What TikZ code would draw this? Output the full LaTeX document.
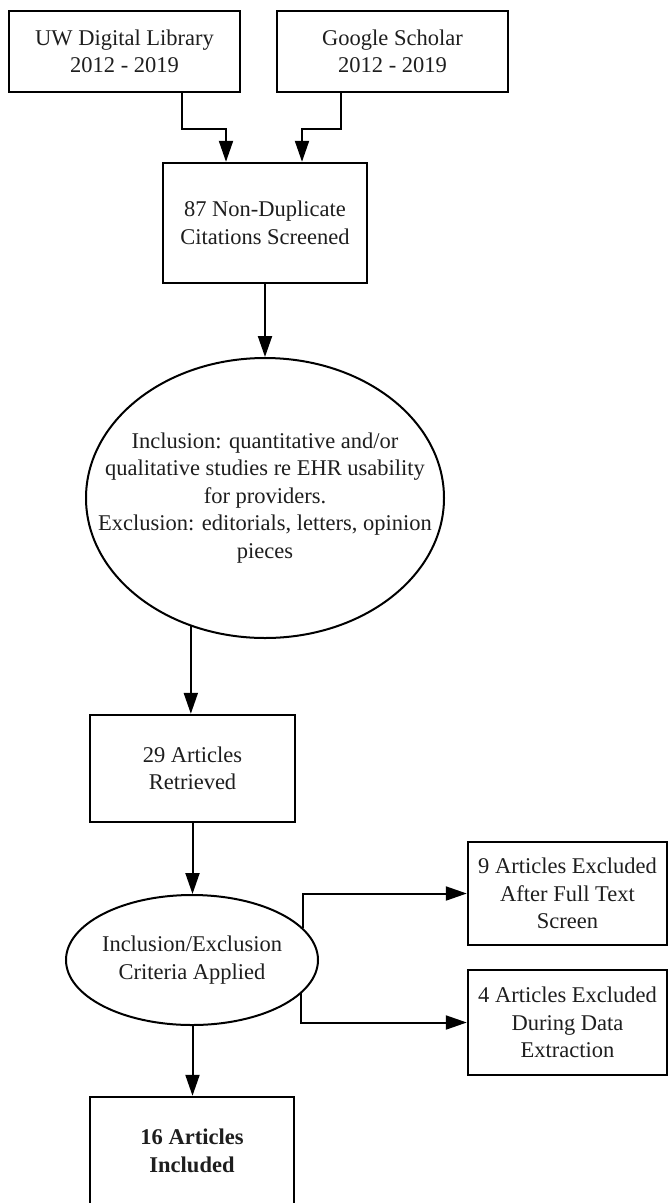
\documentclass[tikz,border=0pt]{standalone}
\usepackage{fontspec}
\setmainfont{Liberation Serif}
\usepackage{tikz}
\usetikzlibrary{shapes.geometric, arrows.meta, positioning}
\definecolor{mydark}{RGB}{0,0,0}
\definecolor{mytext}{RGB}{30,30,30}
\tikzset{
  block/.style={rectangle, draw=mydark, fill=white,
    align=center, font=\fontsize{22.5}{27.5}\selectfont, text=mytext,
    inner sep=0pt, line width=2.4pt},
  oval/.style={ellipse, draw=mydark, fill=white,
    inner sep=0pt, line width=2pt},
  ovaltext/.style={align=center, font=\fontsize{22.5}{27.5}\selectfont,
    text=mytext, inner sep=0pt},
  arrow/.style={-{Triangle[length=21pt, width=14pt]}, line width=2pt, color=mydark}
}

\begin{document}
\begin{tikzpicture}[x=1pt, y=-1pt]
  \useasboundingbox (0,0) rectangle (668,1203);
  % sources
  \node[block, minimum width=231, minimum height=81] (uwlib) at (124.5,51.5) {UW Digital Library\\2012 - 2019};
  \node[block, minimum width=231, minimum height=81] (scholar) at (392.5,51.5) {Google Scholar\\2012 - 2019};
  \node[block, minimum width=204, minimum height=120] (dedup) at (265,223) {87 Non-Duplicate\\Citations Screened};

  % screening criteria
  \node[oval, minimum width=358, minimum height=280] (crit) at (265,498) {};
  \node[ovaltext] (crittext) at (crit) {Inclusion: quantitative and/or\\qualitative studies re EHR usability\\for providers.\\Exclusion: editorials, letters, opinion\\pieces};

  \node[block, minimum width=205, minimum height=107] (retrieved) at (192.5,768.5) {29 Articles\\Retrieved};
  \node[oval, minimum width=252, minimum height=130] (applied) at (192,960) {};
  \node[ovaltext] (appliedtext) at (applied) {Inclusion/Exclusion\\Criteria Applied};

  % exclusions
  \node[block, minimum width=199, minimum height=103] (exclfull) at (567.5,893.5) {9 Articles Excluded\\After Full Text\\Screen};
  \node[block, minimum width=199, minimum height=105] (excldata) at (567.5,1022.5) {4 Articles Excluded\\During Data\\Extraction};

  \node[block, minimum width=204, minimum height=108, font=\fontsize{22.5}{27.5}\selectfont\bfseries] (included) at (192,1151) {16 Articles\\Included};

  \draw[arrow] ([xshift=57.5]uwlib.south) -- ++(0,36) -| ([xshift=-39]dedup.north);
  \draw[arrow] ([xshift=-51.5]scholar.south) -- ++(0,36) -| ([xshift=37]dedup.north);
  \draw[arrow] (dedup.south) -- (crit.north);
  \draw[arrow] (crit.240.6) -- (crit.240.6 |- retrieved.north);
  \draw[arrow] (retrieved.south) -- (retrieved.south |- applied.north);
  \draw[arrow] (applied.16.7) |- (exclfull.west);
  \draw[arrow] (applied.-17.8) |- (excldata.west);
  \draw[arrow] (applied.south -| retrieved.south) -- (included.north -| retrieved.south);
\end{tikzpicture}
\end{document}
